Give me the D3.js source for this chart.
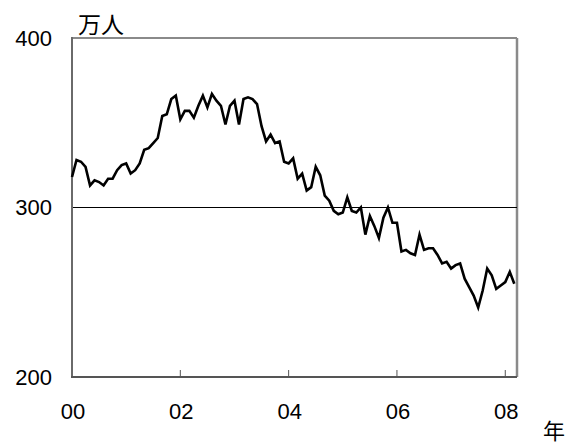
<!DOCTYPE html>
<html>
<head>
<meta charset="utf-8">
<script src="https://cdn.jsdelivr.net/npm/d3@7"></script>
<style>
  body { margin: 0; background: #fff; }
  svg { display: block; }
</style>
</head>
<body>
<svg id="chart" width="568" height="444"></svg>
<script>
// 月次の値（2000年1月〜2008年3月）
const values = [
  318, 328, 327, 324, 313, 316, 315, 313, 317, 317, 322, 325,
  326, 320, 322, 326, 334, 335, 338, 341, 354, 355, 364, 366,
  352, 357, 357, 353, 360, 366, 359, 367, 363, 360, 349, 360,
  363, 349, 364, 365, 364, 361, 348, 339, 343, 338, 339, 327,
  326, 329, 317, 320, 310, 312, 324, 319, 307, 304, 298, 296,
  297, 306, 298, 297, 300, 284, 295, 289, 282, 294, 300, 291,
  291, 274, 275, 273, 272, 284, 275, 276, 276, 272, 267, 268,
  264, 266, 267, 258, 253, 248, 241, 251, 264, 260, 252, 254,
  256, 262, 255
];
const xTickMonths = [0, 24, 48, 72, 96];
const xTickLabels = ["00", "02", "04", "06", "08"];
const yTicks = [200, 300, 400];

const svg = d3.select("#chart");
const plotLeft = 72, plotRight = 517, plotTop = 38, plotBottom = 377;

const x = d3.scaleLinear().domain([0, 98.6]).range([plotLeft, plotRight]);
const y = d3.scaleLinear().domain([200, 400]).range([plotBottom, plotTop]);

const font = "'Liberation Sans', Arial, sans-serif";
const cjkFont = "'Noto Sans CJK JP', sans-serif";

// 枠（上・右は灰色）
svg.append("line")
  .attr("x1", plotLeft).attr("x2", plotRight).attr("y1", plotTop).attr("y2", plotTop)
  .attr("stroke", "#8a8a8a").attr("stroke-width", 2);
svg.append("line")
  .attr("x1", plotRight).attr("x2", plotRight).attr("y1", plotTop).attr("y2", plotBottom)
  .attr("stroke", "#8a8a8a").attr("stroke-width", 2.5);

// 300の基準線
svg.append("line")
  .attr("x1", plotLeft).attr("x2", plotRight)
  .attr("y1", y(300)).attr("y2", y(300))
  .attr("stroke", "#000").attr("stroke-width", 1);

// x軸の目盛り（内向き）
svg.append("g")
  .selectAll("line")
  .data(xTickMonths)
  .join("line")
  .attr("x1", d => x(d)).attr("x2", d => x(d))
  .attr("y1", plotBottom).attr("y2", plotBottom - 7)
  .attr("stroke", "#555").attr("stroke-width", 1);

// 左軸・下軸
svg.append("line")
  .attr("x1", plotLeft).attr("x2", plotLeft).attr("y1", plotTop - 1).attr("y2", plotBottom)
  .attr("stroke", "#6a6a6a").attr("stroke-width", 2);
svg.append("line")
  .attr("x1", plotLeft - 1).attr("x2", plotRight).attr("y1", plotBottom).attr("y2", plotBottom)
  .attr("stroke", "#555").attr("stroke-width", 2);

// 折れ線
const line = d3.line()
  .x((d, i) => x(i))
  .y(d => y(d));

svg.append("path")
  .datum(values)
  .attr("d", line)
  .attr("fill", "none")
  .attr("stroke", "#000")
  .attr("stroke-width", 2.6)
  .attr("stroke-linejoin", "miter");

// y軸ラベル
svg.append("g")
  .selectAll("text")
  .data(yTicks)
  .join("text")
  .attr("x", 52)
  .attr("y", d => y(d))
  .attr("dy", "0.36em")
  .attr("text-anchor", "end")
  .attr("font-family", font)
  .attr("font-size", 22)
  .text(d => d);

// x軸ラベル
svg.append("g")
  .selectAll("text")
  .data(xTickMonths)
  .join("text")
  .attr("x", d => x(d) + 1)
  .attr("y", 419)
  .attr("text-anchor", "middle")
  .attr("font-family", font)
  .attr("font-size", 22)
  .text((d, i) => xTickLabels[i]);

// 単位
svg.append("text")
  .attr("x", 78).attr("y", 33)
  .attr("font-family", cjkFont)
  .attr("font-size", 23)
  .text("万人");

svg.append("text")
  .attr("x", 543).attr("y", 439)
  .attr("font-family", cjkFont)
  .attr("font-size", 22)
  .text("年");
</script>
</body>
</html>
